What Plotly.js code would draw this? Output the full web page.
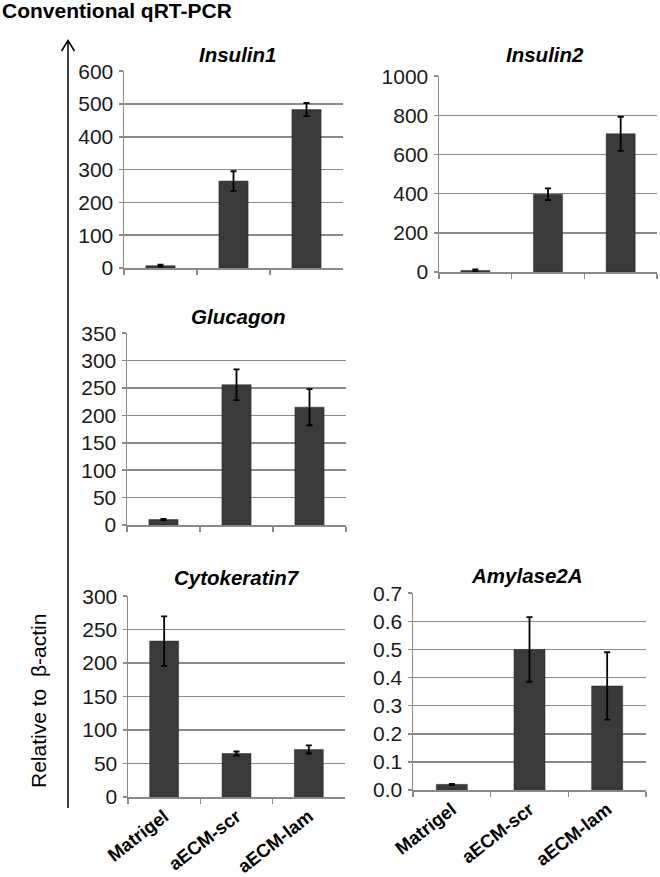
<!DOCTYPE html>
<html>
<head>
<meta charset="utf-8">
<script src="https://cdn.plot.ly/plotly-3.0.1.min.js"></script>
<style>html,body{margin:0;padding:0;background:#fff;}#chart{width:660px;height:877px;}</style>
</head>
<body>
<div id="chart"></div>
<script>
// ---- data ----
const categories = ["Matrigel", "aECM-scr", "aECM-lam"];
const insulin1 = [7, 265, 483];
const insulin1Err = [3, 30, 20];
const insulin2 = [8, 397, 706];
const insulin2Err = [5, 30, 87];
const glucagon = [10, 256, 215];
const glucagonErr = [1, 28, 33];
const cytokeratin7 = [233, 65, 71];
const cytokeratin7Err = [37, 3, 6];
const amylase2A = [0.02, 0.50, 0.37];
const amylase2AErr = [0.002, 0.115, 0.12];
const panelTitles = ["Insulin1", "Insulin2", "Glucagon", "Cytokeratin7", "Amylase2A"];
const mainTitle = "Conventional qRT-PCR";
const yLabel = "Relative to  \u03b2-actin";

// ---- layout geometry (pixels) ----
const W = 660, H = 877;
const px = x => x / W;
const py = y => 1 - y / H;
const panels = [
  {vals: insulin1, err: insulin1Err, range: [0, 600], dtick: 100, fmt: "", x: [124, 343], y: [71, 268], t: [237, 55], labels: false},
  {vals: insulin2, err: insulin2Err, range: [0, 1000], dtick: 200, fmt: "", x: [439, 657], y: [76, 272], t: [545, 54], labels: false},
  {vals: glucagon, err: glucagonErr, range: [0, 350], dtick: 50, fmt: "", x: [127, 346], y: [333, 525], t: [238, 316], labels: false},
  {vals: cytokeratin7, err: cytokeratin7Err, range: [0, 300], dtick: 50, fmt: "", x: [128, 345], y: [596, 797], t: [237, 577], labels: true},
  {vals: amylase2A, err: amylase2AErr, range: [0, 0.7], dtick: 0.1, fmt: ".1f", x: [413, 646], y: [593, 790], t: [527, 575], labels: true}
];

const barColor = "#3a3a3a";
const gridColor = "#8a8a8a";
const font = "Liberation Sans, Arial, sans-serif";

const data = [];
const layout = {
  width: W, height: H,
  margin: {l: 0, r: 0, t: 0, b: 0},
  paper_bgcolor: "#fff", plot_bgcolor: "#fff",
  showlegend: false,
  bargap: 0.6,
  font: {family: font, color: "#1a1a1a"},
  annotations: [],
  shapes: []
};

panels.forEach((p, i) => {
  const n = i + 1;
  const xa = n === 1 ? "xaxis" : "xaxis" + n;
  const ya = n === 1 ? "yaxis" : "yaxis" + n;
  data.push({
    type: "bar", x: categories, y: p.vals,
    xaxis: "x" + (n === 1 ? "" : n), yaxis: "y" + (n === 1 ? "" : n),
    marker: {color: barColor, line: {color: "#2a2a2a", width: 0.5}},
    error_y: {type: "data", array: p.err, visible: true, color: "#000", thickness: 1.8, width: 3},
    hoverinfo: "skip"
  });
  layout[xa] = {
    domain: [px(p.x[0]), px(p.x[1])],
    anchor: "y" + (n === 1 ? "" : n),
    type: "category",
    showline: true, linecolor: gridColor, linewidth: 1.5,
    ticks: "outside", tickson: "boundaries", ticklen: 5, tickwidth: 1.5, tickcolor: gridColor,
    showgrid: false,
    showticklabels: p.labels,
    tickangle: -38,
    tickfont: {family: font, size: 18.5, color: "#000", weight: "bold"},
    fixedrange: true
  };
  layout[ya] = {
    domain: [py(p.y[1]), py(p.y[0])],
    anchor: "x" + (n === 1 ? "" : n),
    range: [p.range[0], p.range[1] * 1.001],
    dtick: p.dtick, tick0: 0,
    tickformat: p.fmt,
    showline: true, linecolor: gridColor, linewidth: 1.5,
    ticks: "outside", ticklen: 4, tickwidth: 1.5, tickcolor: gridColor,
    ticklabelstandoff: 1,
    showgrid: true, gridcolor: gridColor, gridwidth: 1.5,
    zeroline: false,
    tickfont: {family: font, size: 21, color: "#1a1a1a"},
    fixedrange: true
  };
  layout.annotations.push({
    xref: "paper", yref: "paper", x: px(p.t[0]), y: py(p.t[1]),
    xanchor: "center", yanchor: "middle", showarrow: false,
    text: "<b><i>" + panelTitles[i] + "</i></b>",
    font: {family: font, size: 20.5, color: "#000"}
  });
});

// main title
layout.annotations.push({
  xref: "paper", yref: "paper", x: px(0), y: py(11),
  xanchor: "left", yanchor: "middle", showarrow: false,
  text: "<b>" + mainTitle + "</b>",
  font: {family: font, size: 21, color: "#000"}
});
// y label
layout.annotations.push({
  xref: "paper", yref: "paper", x: px(38), y: py(701),
  xanchor: "center", yanchor: "middle", showarrow: false,
  textangle: -90,
  text: yLabel,
  font: {family: font, size: 21, color: "#000"}
});
// vertical arrow
layout.shapes.push({
  type: "line", xref: "paper", yref: "paper",
  x0: px(68), x1: px(68), y0: py(808), y1: py(41),
  line: {color: "#000", width: 1.5}
});
layout.shapes.push({
  type: "path", xref: "paper", yref: "paper",
  path: "M " + px(61.5) + " " + py(51) + " L " + px(68) + " " + py(40.5) + " L " + px(74.5) + " " + py(51),
  line: {color: "#000", width: 1.5}
});

Plotly.newPlot("chart", data, layout, {displayModeBar: false, staticPlot: true});
</script>
</body>
</html>
